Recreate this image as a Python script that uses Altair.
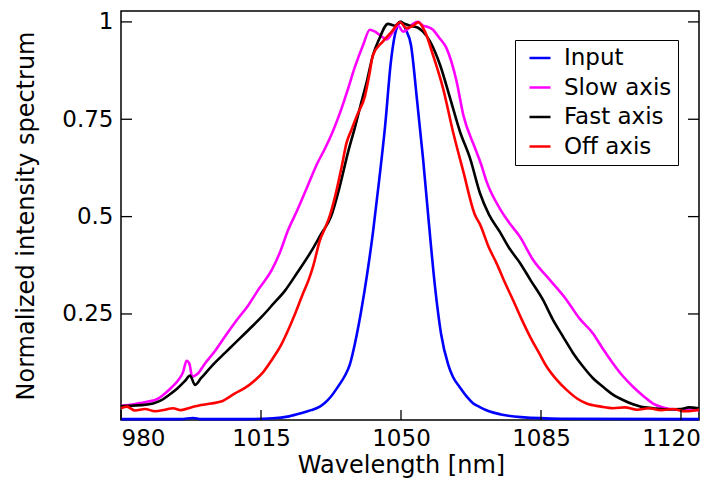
import altair as alt
import pandas as pd

# ---------------- data ----------------
series_names = ["Input", "Slow axis", "Fast axis", "Off axis"]
series_colors = ["#0000ff", "#ff00ff", "#000000", "#ff0000"]

input_x = [980, 995, 998, 1000, 1010, 1018, 1022, 1025, 1027.5, 1029.7, 1031, 1032.5,
           1034.3, 1036, 1037.2, 1038.5, 1040, 1041.5, 1043, 1044.5, 1046, 1047.5,
           1048.8, 1050, 1051.2, 1052.5, 1054, 1055.5, 1057, 1058.5, 1060, 1061.8, 1063,
           1064.7, 1066.5, 1068, 1069.7, 1072, 1075, 1080, 1090, 1124.5]
input_y = [-0.02, -0.02, -0.017, -0.02, -0.02, -0.018, -0.013, -0.005, 0.003, 0.012, 0.022,
           0.038, 0.064, 0.092, 0.12, 0.175, 0.255, 0.35, 0.46, 0.59, 0.73, 0.9,
           0.98, 1.0, 0.98, 0.94, 0.8, 0.65, 0.48, 0.32, 0.2, 0.12, 0.088,
           0.062, 0.037, 0.021, 0.011, 0.0, -0.008, -0.015, -0.019, -0.02]

slow_x = [980, 982, 984.7, 986.8, 989, 991, 992.5, 994.3, 995.5, 996.4, 997.1, 997.8, 999,
          1001, 1003.5, 1006, 1009, 1011.8, 1014.5, 1017.7, 1019.8, 1021.8, 1024, 1026.5,
          1029, 1031, 1033, 1034.7, 1036.5, 1038.5, 1040.5, 1042.2, 1043.5, 1045.2, 1046.5,
          1048, 1049.3, 1050.5, 1051.5, 1053, 1054.3, 1055.5, 1056.4, 1058, 1059.5, 1061.4,
          1063.9, 1065.6, 1068.5, 1070, 1071.4, 1074.75, 1077, 1079.75, 1083, 1087.25,
          1091.4, 1094.5, 1098, 1100.5, 1103, 1105.5, 1108, 1110.5, 1113, 1115.5, 1118,
          1121, 1124.5]
slow_y = [0.014, 0.016, 0.021, 0.025, 0.031, 0.046, 0.06, 0.08, 0.1, 0.13, 0.122, 0.089, 0.095,
          0.123, 0.155, 0.192, 0.235, 0.272, 0.315, 0.363, 0.41, 0.466, 0.515, 0.575,
          0.635, 0.675, 0.72, 0.765, 0.82, 0.885, 0.94, 0.98, 0.975, 0.962, 0.955,
          0.975, 0.99, 0.975, 0.98, 0.995, 1.0, 0.99, 0.988, 0.98, 0.96, 0.932,
          0.847, 0.76, 0.676, 0.635, 0.59, 0.52, 0.485, 0.448, 0.389, 0.337,
          0.286, 0.24, 0.2, 0.16, 0.123, 0.09, 0.063, 0.04, 0.02, 0.01, 0.005,
          0.004, 0.003]

fast_x = [980, 982, 985, 988, 990, 992, 994, 996, 997.25, 998.5, 1000, 1003.5, 1006,
          1008.5, 1012, 1015.2, 1018, 1021, 1024, 1027.5, 1030, 1032.5, 1034.75,
          1036.75, 1038.5, 1040, 1041.4, 1043, 1044.5, 1046.75, 1048.5, 1049.75, 1051,
          1052.25, 1054.25, 1055.5, 1057.25, 1059.75, 1062.25, 1064.75, 1067.25, 1069.75,
          1072, 1074.75, 1077, 1079.75, 1082.5, 1085.5, 1088, 1090.5, 1093, 1095.5, 1098,
          1100.5, 1103, 1105.5, 1108, 1110, 1113, 1116, 1120, 1122, 1124.5]
fast_y = [0.013, 0.014, 0.016, 0.02, 0.028, 0.042, 0.058, 0.078, 0.092, 0.068, 0.085, 0.125,
          0.15, 0.175, 0.21, 0.243, 0.275, 0.31, 0.355, 0.41, 0.455, 0.5, 0.58,
          0.665, 0.73, 0.79, 0.845, 0.915, 0.955, 0.995, 0.99, 1.0, 0.995,
          0.99, 0.985, 0.975, 0.95, 0.89, 0.805, 0.718, 0.65, 0.56,
          0.505, 0.46, 0.42, 0.381, 0.335, 0.286, 0.235, 0.192, 0.15, 0.115, 0.085,
          0.063, 0.043, 0.029, 0.018, 0.012, 0.008, 0.005, 0.006, 0.01, 0.008]

off_x = [980, 981.5, 983.5, 986, 988.5, 991, 993, 995, 997.5, 1000, 1002.5, 1005, 1008.5,
         1011, 1013.5, 1015.5, 1017.7, 1020, 1021.8, 1023.5, 1025.4, 1027, 1028.1, 1029.75,
         1031, 1032.25, 1033.9, 1035.2, 1036.4, 1037.5, 1039, 1041, 1042, 1043, 1045.5,
         1047.7, 1049.75, 1051.4, 1053, 1054.3, 1056, 1058, 1060.5, 1063, 1065.6, 1068.5,
         1069.75, 1072, 1073.9, 1076, 1078, 1080, 1082.25, 1084.5, 1086.4, 1089, 1091.4,
         1094, 1096.4, 1100, 1103, 1106, 1109, 1112, 1115, 1118, 1121, 1124.5]
off_y = [0.008, 0.012, 0.002, 0.006, 0.0, 0.004, 0.008, 0.003, 0.01, 0.016, 0.02, 0.025, 0.046,
         0.06, 0.08, 0.1, 0.132, 0.17, 0.209, 0.25, 0.3, 0.34, 0.375, 0.44,
         0.47, 0.504, 0.568, 0.63, 0.69, 0.72, 0.76, 0.81, 0.86, 0.915, 0.95,
         0.975, 0.999, 0.984, 0.99, 0.999, 0.975, 0.915, 0.83, 0.718, 0.615, 0.504,
         0.48, 0.42, 0.38, 0.33, 0.286, 0.24, 0.192, 0.15, 0.115, 0.08, 0.055,
         0.033, 0.02, 0.012, 0.008, 0.01, 0.004, 0.008, 0.003, 0.006, 0.0, 0.004]

x_ticks = [980, 1015, 1050, 1085, 1120]
y_ticks = [0.25, 0.5, 0.75, 1]
x_domain = [980, 1124.5]
y_domain = [-0.0223, 1.028]

# ---------------- build table ----------------
frames = []
for name, xs, ys in [("Input", input_x, input_y), ("Slow axis", slow_x, slow_y),
                     ("Fast axis", fast_x, fast_y), ("Off axis", off_x, off_y)]:
    frames.append(pd.DataFrame({"wl": xs, "val": ys, "series": name,
                                "order": series_names.index(name)}))
df = pd.concat(frames, ignore_index=True)

W, H = 578, 409
FONT = "DejaVu Sans"

xscale = alt.Scale(domain=x_domain, nice=False, zero=False)
yscale = alt.Scale(domain=y_domain, nice=False, zero=False)

color = alt.Color(
    "series:N",
    scale=alt.Scale(domain=series_names, range=series_colors),
    sort=series_names,
    legend=alt.Legend(
        title=None, orient="none", legendX=394, legendY=29,
        symbolType="stroke", symbolSize=441, symbolStrokeWidth=2.5,
        symbolOffset=7, labelOffset=12, labelFont=FONT, labelFontSize=23,
        labelColor="black", rowPadding=5.5, padding=6,
        fillColor="white", strokeColor="black",
    ),
)

lines = alt.Chart(df).mark_line(strokeWidth=2.6, interpolate="monotone").encode(
    x=alt.X("wl:Q", scale=xscale,
            axis=alt.Axis(values=x_ticks, format="d", title="Wavelength [nm]",
                          titleX=280, titleY=52, titleBaseline="alphabetic",
                          titleAlign="center",
                          labelOffset={"condition": {"test": "datum.value == 1120",
                                                     "value": -10},
                                       "value": 0})),
    y=alt.Y("val:Q", scale=yscale,
            axis=alt.Axis(values=y_ticks, format=".2~f",
                          title="Normalized intensity spectrum",
                          titleX=-88, titleY=H / 2, titleBaseline="alphabetic",
                          titleAlign="center", titleAngle=270)),
    color=color,
    detail="series:N",
    order="order:Q",
)

ytick_df = pd.DataFrame({"val": y_ticks})
xtick_df = pd.DataFrame({"wl": x_ticks})

left_ticks = alt.Chart(ytick_df).mark_rule(color="black", strokeWidth=1.3).encode(
    y=alt.Y("val:Q", scale=yscale),
    x=alt.value(0), x2=alt.value(11),
)
right_ticks = alt.Chart(ytick_df).mark_rule(color="black", strokeWidth=1.3).encode(
    y=alt.Y("val:Q", scale=yscale),
    x=alt.value(W - 11), x2=alt.value(W),
)
bottom_ticks = alt.Chart(xtick_df).mark_rule(color="black", strokeWidth=1.3).encode(
    x=alt.X("wl:Q", scale=xscale),
    y=alt.value(H - 10), y2=alt.value(H),
)

chart = alt.layer(lines, left_ticks, right_ticks, bottom_ticks).properties(
    width=W, height=H,
    padding={"left": 113, "top": 3, "right": 1, "bottom": 58},
    autosize="none",
).configure_view(
    stroke="black", strokeWidth=1.5
).configure_axis(
    grid=False, domain=False, ticks=False,
    labelFont=FONT, labelFontSize=23, labelColor="black", labelPadding=7,
    titleFont=FONT, titleFontSize=24, titleFontWeight="normal", titleColor="black",
).configure_axisY(labelPadding=8)

chart.save("out.html", embed_options={"renderer": "svg", "actions": False})
